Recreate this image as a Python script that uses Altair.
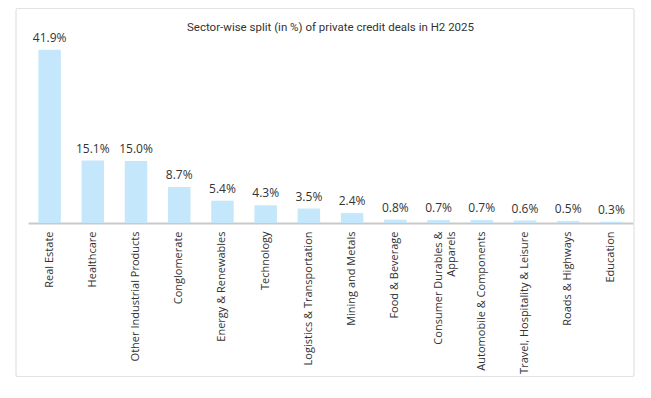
import altair as alt
import pandas as pd

title_text = "Sector-wise split (in %) of private credit deals in H2 2025"
sectors = [
    "Real Estate", "Healthcare", "Other Industrial Products", "Conglomerate",
    "Energy & Renewables", "Technology", "Logistics & Transportation",
    "Mining and Metals", "Food & Beverage", "Consumer Durables & Apparels",
    "Automobile & Components", "Travel, Hospitality & Leisure",
    "Roads & Highways", "Education",
]
shares = [41.9, 15.1, 15.0, 8.7, 5.4, 4.3, 3.5, 2.4, 0.8, 0.7, 0.7, 0.6, 0.5, 0.3]

df = pd.DataFrame({"sector": sectors, "share": shares})
tdf = pd.DataFrame({"t": [title_text]})

W, H = 605, 186
BAR = "#C4E7FB"
TXT = "#333333"

label_expr = ("datum.label == 'Consumer Durables & Apparels' ? "
              "['Consumer Durables &', '\u00a0\u00a0\u00a0\u00a0\u00a0\u00a0\u00a0Apparels'] : datum.label")

x = alt.X("sector:N", sort=None, title=None,
          scale=alt.Scale(paddingInner=0.48, paddingOuter=0.24),
          axis=alt.Axis(labelAngle=270, ticks=False, labelPadding=8,
                        domainColor="#c9c9c9", domainWidth=2,
                        labelFont="Open Sans", labelFontSize=11,
                        labelColor=TXT, labelExpr=label_expr, labelLimit=250))
y = alt.Y("share:Q", scale=alt.Scale(domain=[0, 45]), axis=None)

base = alt.Chart(df).encode(x=x, y=y)
bars = base.mark_bar(color=BAR)
labels = base.mark_text(dy=-12, baseline="middle", font="Open Sans",
                        fontSize=12, color=TXT).transform_calculate(
    lab="format(datum.share, '.1f') + '%'").encode(text="lab:N")

title = alt.Chart(tdf).mark_text(font="Roboto", fontSize=11.5, color=TXT,
                                 baseline="middle", align="center").encode(
    text="t:N", x=alt.value(W / 2), y=alt.value(-9))
border = alt.Chart(tdf).mark_rect(fillOpacity=0, stroke="#e2e2e2", strokeWidth=1.2,
                                  cornerRadius=2).encode(
    x=alt.value(-12), x2=alt.value(606), y=alt.value(-28.5), y2=alt.value(339.5))

chart = alt.layer(border, bars, labels, title).properties(
    width=W, height=H,
    padding={"left": 20, "top": 29, "right": 10, "bottom": 155},
    autosize=alt.AutoSizeParams(type="none"),
    background="white",
).configure_view(strokeWidth=0)

chart.save("out.html", embed_options={"renderer": "svg", "actions": False})
